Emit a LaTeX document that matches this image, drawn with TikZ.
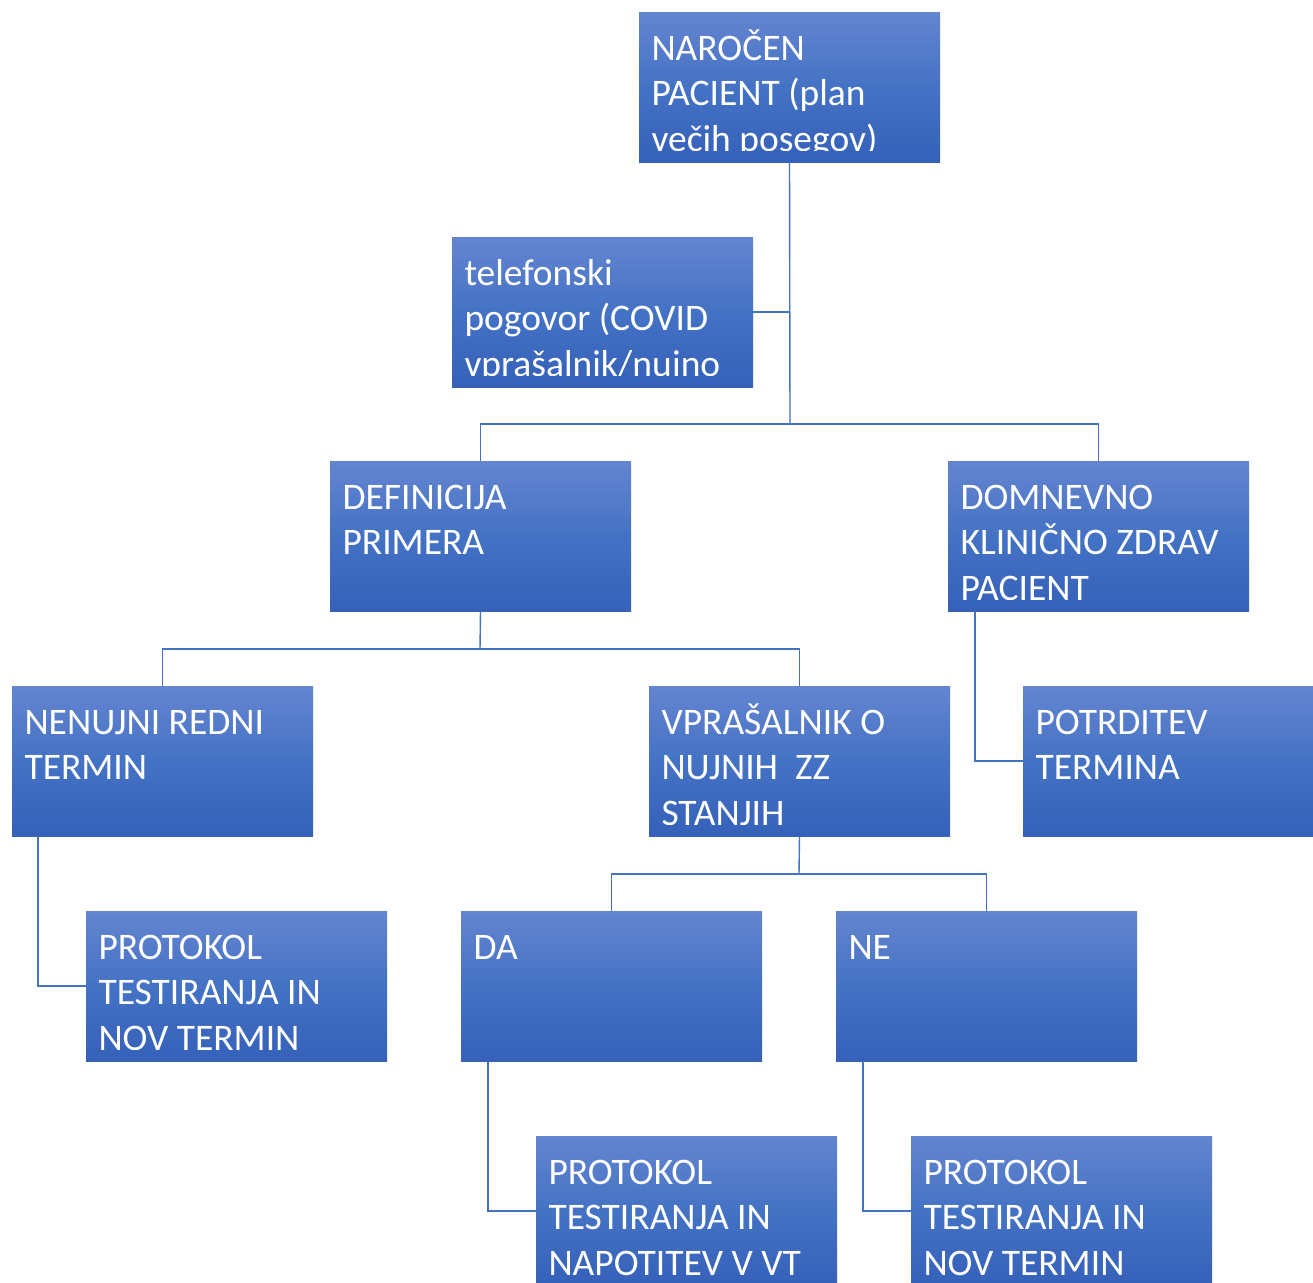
\documentclass[tikz,border=0pt]{standalone}
\usepackage{fontspec}
\setmainfont{Carlito}
\definecolor{gtop}{HTML}{6485D0}
\definecolor{gmid}{HTML}{4472C4}
\definecolor{gbot}{HTML}{3561B9}
\definecolor{lnc}{HTML}{4472C4}
\tikzset{
  boxst/.style={rectangle, anchor=north west, inner sep=0pt, outer sep=0pt,
    minimum width=301pt, minimum height=150pt,
    top color=gtop, bottom color=gbot, middle color=gmid},
  txt/.style={anchor=north west, inner sep=0pt, outer sep=0pt, text=white, align=left,
    font=\fontsize{37.5pt}{45.5pt}\selectfont},
  conn/.style={draw=lnc, line width=1.4pt}
}
\newcommand\boxtext[2]{%
  \begin{scope}
    \clip (#1.north west) rectangle ([yshift=12pt]#1.south east);
    \node[txt] (#1t) at ([xshift=12.5pt,yshift=-8pt]#1.north west) {\rule{0pt}{40pt}#2};
  \end{scope}}
\begin{document}
\begin{tikzpicture}[x=1pt,y=-1pt]
\useasboundingbox (0,0) rectangle (1313,1282);
\clip (0,0) rectangle (1313,1282);
% boxes
\node[boxst] (A) at (639,12) {};
\node[boxst] (B) at (452,237) {};
\node[boxst] (C) at (330,461) {};
\node[boxst] (D) at (948,461) {};
\node[boxst] (E) at (12,686) {};
\node[boxst] (F) at (649,686) {};
\node[boxst] (G) at (1023,686) {};
\node[boxst] (H) at (86,911) {};
\node[boxst] (I) at (461,911) {};
\node[boxst] (J) at (836,911) {};
\node[boxst] (K) at (536,1136) {};
\node[boxst] (L) at (911,1136) {};
% texts
\boxtext{A}{NAROČEN\\PACIENT (plan\\večih posegov)}
\boxtext{B}{telefonski\\pogovor (COVID\\vprašalnik/nujno}
\boxtext{C}{DEFINICIJA\\PRIMERA}
\boxtext{D}{DOMNEVNO\\KLINIČNO ZDRAV\\PACIENT}
\boxtext{E}{NENUJNI REDNI\\TERMIN}
\boxtext{F}{VPRAŠALNIK O\\NUJNIH \ ZZ\\STANJIH}
\boxtext{G}{POTRDITEV\\TERMINA}
\boxtext{H}{PROTOKOL\\TESTIRANJA IN\\NOV TERMIN}
\boxtext{I}{DA}
\boxtext{J}{NE}
\node[txt] (Kt) at ([xshift=12.5pt,yshift=-8pt]K.north west) {\rule{0pt}{40pt}PROTOKOL\\TESTIRANJA IN\\NAPOTITEV V VT};
\node[txt] (Lt) at ([xshift=12.5pt,yshift=-8pt]L.north west) {\rule{0pt}{40pt}PROTOKOL\\TESTIRANJA IN\\NOV TERMIN};
% junctions
\coordinate (j1) at (790,424);
\coordinate (j2) at (480,649);
\coordinate (j3) at (799,874);
% connectors
\draw[conn] (A.south) -- (j1);
\draw[conn] (B.east) -- (A.south |- B.east);
\draw[conn] (C.north) |- (j1) -| (D.north);
\draw[conn] (C.south) -- (j2);
\draw[conn] (E.north) |- (j2) -| (F.north);
\draw[conn] ([xshift=27pt]D.south west) |- (G.west);
\draw[conn] ([xshift=26pt]E.south west) |- (H.west);
\draw[conn] (F.south) -- (j3);
\draw[conn] (I.north) |- (j3) -| (J.north);
\draw[conn] ([xshift=27pt]I.south west) |- (K.west);
\draw[conn] ([xshift=27pt]J.south west) |- (L.west);
\end{tikzpicture}
\end{document}
